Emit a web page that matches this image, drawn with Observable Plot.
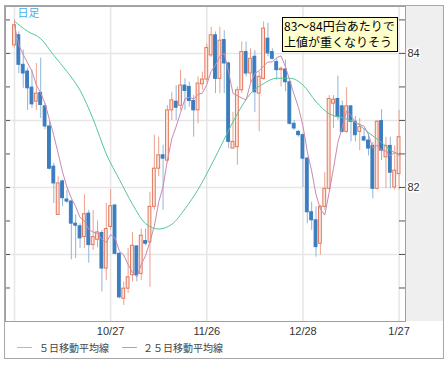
<!DOCTYPE html>
<html><head><meta charset="utf-8">
<script src="https://cdn.jsdelivr.net/npm/d3@7"></script>
<script src="https://cdn.jsdelivr.net/npm/@observablehq/plot@0.6"></script>
<style>
body{margin:0;background:#fff;}
#wrap{position:relative;width:447px;height:366px;overflow:hidden;}
#outer{position:absolute;left:4px;top:5px;width:438px;height:352px;border:1px solid #a8a8a8;background:#fff;}
#strip{position:absolute;left:406px;top:6px;width:37px;height:315px;background:#efefef;}
#chart{position:absolute;left:0;top:0;}
#note{position:absolute;left:282px;top:17px;width:116px;height:35px;border:1px solid #000;background:#ffffcc;font-family:"Noto Sans CJK JP",sans-serif;font-size:12px;line-height:16px;padding:0 0 0 1px;box-sizing:border-box;color:#000;white-space:nowrap;}
.lg{position:absolute;top:342px;height:12px;line-height:12px;font-family:"Noto Sans CJK JP",sans-serif;font-size:10px;color:#444;white-space:nowrap;}
.sw{position:absolute;top:347px;height:0;width:15px;border-top:1px solid;}
</style></head>
<body>
<div id="wrap">
  <div id="outer"></div>
  <div id="strip"></div>
  <div id="chart"></div>
  <div id="note">83～84円台あたりで<br>上値が重くなりそう</div>
  <div class="sw" style="left:17px;border-color:#e4a3c3"></div>
  <div class="lg" style="left:39px">５日移動平均線</div>
  <div class="sw" style="left:122px;border-color:#66cc99"></div>
  <div class="lg" style="left:143px">２５日移動平均線</div>
</div>
<script>
const dates = ["9/27","9/28","9/29","9/30","10/1","10/4","10/5","10/6","10/7","10/8",
"10/11","10/12","10/13","10/14","10/15","10/18","10/19","10/20","10/21","10/22",
"10/25","10/26","10/27","10/28","10/29","11/1","11/2","11/3","11/4","11/5",
"11/8","11/9","11/10","11/11","11/12","11/15","11/16","11/17","11/18","11/19",
"11/22","11/23","11/24","11/25","11/26","11/29","11/30","12/1","12/2","12/3",
"12/6","12/7","12/8","12/9","12/10","12/13","12/14","12/15","12/16","12/17",
"12/20","12/21","12/22","12/23","12/24","12/27","12/28","12/29","12/30","12/31",
"1/3","1/4","1/5","1/6","1/7","1/10","1/11","1/12","1/13","1/14",
"1/17","1/18","1/19","1/20","1/21","1/24","1/25","1/26","1/27"];
const open = [84.12,84.27,83.83,83.73,83.49,83.28,83.41,83.21,82.91,82.31,
81.59,82.09,81.82,81.79,81.46,81.42,81.26,81.61,81.14,81.22,
81.32,80.79,81.41,81.73,81.01,80.34,80.49,80.69,81.12,80.71,
81.20,81.18,81.71,82.28,82.48,82.40,83.15,83.28,83.22,83.52,
83.50,83.29,83.15,83.54,83.61,83.97,84.27,83.62,84.20,83.85,
82.58,82.60,83.45,84.02,83.70,83.95,83.40,83.62,84.22,84.02,
83.87,83.75,83.76,83.57,82.95,82.83,82.78,82.43,81.63,81.51,
81.16,81.71,81.98,83.25,83.32,83.21,82.83,83.21,82.98,82.83,
82.75,82.70,82.62,81.98,82.99,82.45,82.62,82.00,82.20];
const high = [84.50,84.32,84.05,83.78,83.75,83.85,83.93,83.25,82.98,82.36,
82.16,82.11,81.96,81.81,81.59,81.46,81.89,81.66,81.66,81.50,
81.36,81.76,81.97,81.75,81.03,80.59,81.09,81.33,81.13,81.38,
81.38,81.93,82.78,82.75,82.63,83.22,83.42,83.52,83.75,83.62,
83.57,83.37,83.65,83.72,84.14,84.39,84.32,84.39,84.34,83.87,
83.12,83.50,84.17,84.17,84.07,84.04,83.72,84.47,84.45,84.07,
83.92,83.80,83.90,83.60,83.00,82.85,82.80,82.45,81.78,81.71,
81.73,82.22,83.37,83.37,83.66,83.29,83.49,83.22,83.06,83.03,
82.88,82.80,82.67,83.00,83.16,82.75,82.75,82.62,83.15];
const low = [84.08,83.70,83.48,83.15,83.18,83.15,83.03,82.86,82.26,81.76,
81.59,81.71,81.76,80.92,80.94,81.09,81.09,80.87,81.06,81.10,
80.44,80.61,81.36,81.00,80.34,80.24,80.42,80.59,80.59,80.61,
81.13,80.51,81.66,82.16,81.66,82.37,83.00,83.00,83.15,83.15,
83.20,82.75,82.95,83.45,83.57,83.94,83.40,83.40,83.40,82.58,
82.58,82.33,83.40,83.65,83.55,83.12,82.83,83.60,83.95,83.90,
83.60,83.50,83.43,82.93,82.85,82.75,82.00,81.46,81.36,80.96,
80.99,81.66,81.96,82.88,83.00,82.81,82.81,82.68,82.68,82.55,
82.68,82.47,81.83,81.96,82.40,81.98,81.98,81.96,81.96];
const close = [84.42,83.83,83.70,83.48,83.24,83.40,83.23,82.91,82.28,82.06,
82.06,81.84,81.79,81.46,81.43,81.24,81.60,81.14,81.26,81.33,
80.79,81.38,81.72,81.01,80.36,80.49,80.66,81.13,80.69,81.28,
81.16,81.71,82.28,82.48,82.43,83.15,83.30,83.19,83.52,83.44,
83.29,83.15,83.55,83.61,84.08,84.27,83.62,84.19,83.85,82.68,
82.68,83.45,84.02,83.70,83.92,83.42,83.65,84.37,84.00,83.92,
83.75,83.77,83.57,82.95,82.88,82.78,82.43,81.63,81.51,81.11,
81.71,81.98,83.32,83.31,83.05,82.83,83.21,82.98,82.78,82.90,
82.70,82.58,81.98,82.98,82.55,82.62,82.22,82.25,82.75];
// 25-day moving average at every third session
const ma25Dates = ["9/27","9/30","10/5","10/8","10/13","10/18","10/21","10/26","10/29","11/3",
"11/8","11/11","11/16","11/19","11/24","11/29","12/2","12/7","12/10","12/15",
"12/20","12/23","12/28","12/31","1/5","1/10","1/13","1/18","1/21","1/26","1/27"];
const ma25 = [84.48,84.33,84.22,83.97,83.73,83.45,83.02,82.50,82.12,81.75,
81.46,81.38,81.45,81.68,81.97,82.33,82.72,83.10,83.40,83.55,
83.63,83.63,83.53,83.28,83.10,83.04,82.97,82.82,82.67,82.52,82.50];
const gridDates = ["9/27","10/27","11/26","12/28","1/27"];
const labelDates = ["10/27","11/26","12/28","1/27"];
const gridPrices = [81,82,83,84];
const tickPrices = [80.5,81,81.5,82,82.5,83,83.5,84,84.5];
const labelPrices = [82,84];

const candles = dates.map((d,i)=>({date:d, open:open[i], high:high[i], low:low[i], close:close[i], up: close[i] >= open[i]}));
const ma25Data = ma25Dates.map((d,i)=>({date:d, value:ma25[i]}));

const chart = Plot.plot({
  width:447, height:345,
  marginLeft:5, marginRight:42, marginTop:6, marginBottom:24,
  style:{background:"transparent", fontFamily:"'Liberation Sans', Arial, sans-serif", fontSize:"11px", color:"#333", overflow:"visible"},
  x:{type:"band", domain:dates, paddingInner:0.35, paddingOuter:0.175, insetLeft:6.8, insetRight:4.25, label:null},
  y:{domain:[80,84.7], axis:null, label:null},
  marks:[
    Plot.frame({fill:"white"}),
    Plot.ruleY(gridPrices, {stroke:"#e6e6e6", strokeWidth:1.5}),
    Plot.ruleX(gridDates, {stroke:"#e6e6e6", strokeWidth:1.5}),
    Plot.ruleX(candles, {x:"date", y1:"low", y2:"high", stroke:d=>d.up?"#eca08c":"#8fb5da", strokeWidth:1}),
    Plot.barY(candles, {x:"date", y1:"open", y2:"close", fill:d=>d.up?"#fce6de":"#3b7dbf", stroke:d=>d.up?"#e3785d":"#3b7dbf", strokeWidth:1}),
    Plot.lineY(ma25Data, {x:"date", y:"value", stroke:"#55c794", strokeWidth:1, curve:"monotone-x"}),
    Plot.lineY(candles, Plot.windowY({k:5, anchor:"end", reduce:"mean"}, {x:"date", y:"close", stroke:"#c98aae", strokeWidth:1})),
    Plot.tickY(tickPrices, {y:d=>d, insetRight:395, stroke:"#555"}),
    Plot.tickY(tickPrices, {y:d=>d, insetLeft:394, stroke:"#555"}),
    Plot.frame({stroke:"#a0a0a0"}),
    Plot.text(labelPrices, {y:d=>d, frameAnchor:"right", textAnchor:"start", dx:2, fill:"#333", stroke:"white", strokeWidth:3, fontSize:11}),
    Plot.axisX({ticks:labelDates, tickSize:0, tickPadding:6, fontSize:11, color:"#333", label:null}),
    Plot.text(["日足"], {frameAnchor:"top-left", dx:12, dy:3, fill:"#45aee8", fontFamily:"'Noto Sans CJK JP'", fontSize:11, textAnchor:"start", lineAnchor:"top"})
  ]
});
document.getElementById("chart").appendChild(chart);
</script>
</body></html>
